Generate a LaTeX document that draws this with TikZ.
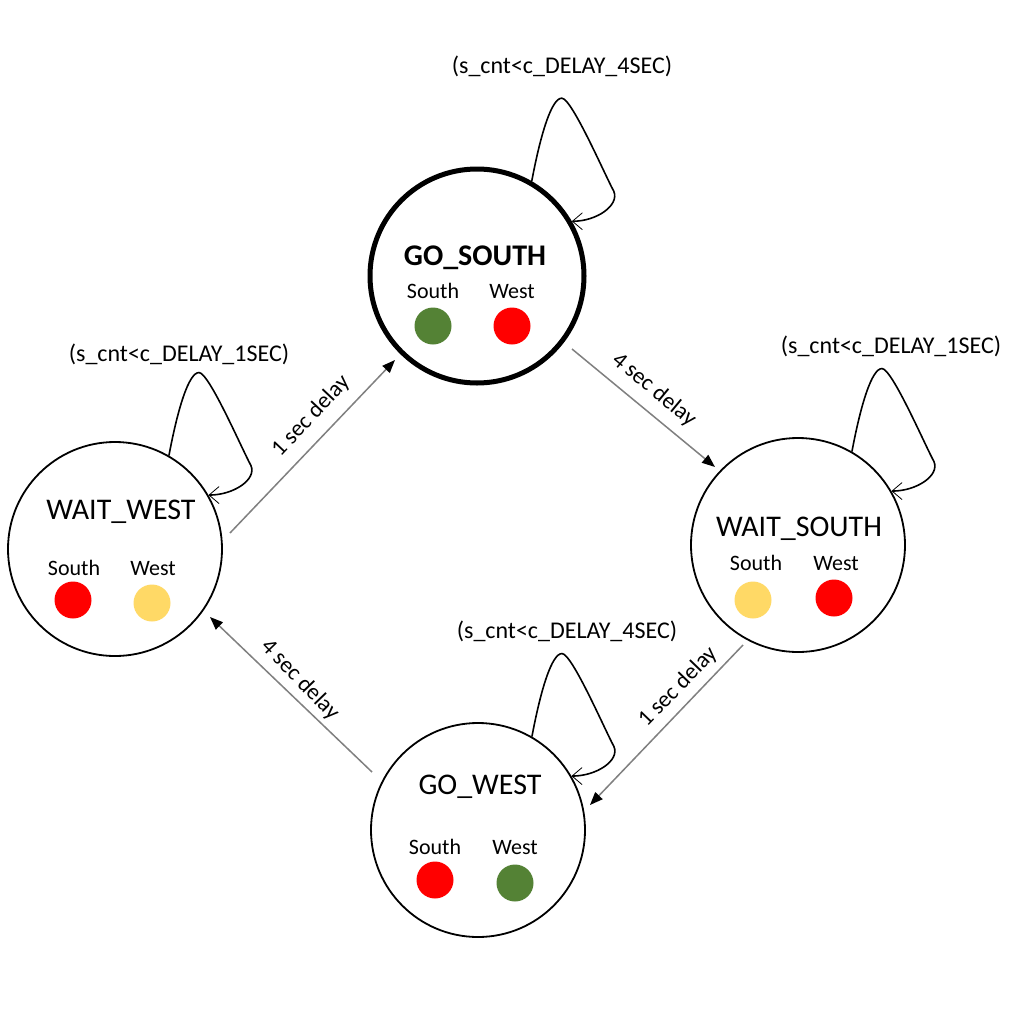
\documentclass[tikz,border=0pt]{standalone}
\usepackage{fontspec}
\setmainfont{Carlito}
\usetikzlibrary{arrows.meta,calc}
\definecolor{lgreen}{RGB}{84,130,53}
\definecolor{lred}{RGB}{255,0,0}
\definecolor{lyellow}{RGB}{255,217,102}
\definecolor{agray}{RGB}{128,128,128}
\begin{document}
\begin{tikzpicture}[x=1pt,y=-1pt,
  state/.style={circle,draw=black,line width=1.8pt,minimum size=214pt,inner sep=0pt},
  title/.style={font=\fontsize{30}{36}\selectfont,inner sep=0pt,anchor=base},
  small/.style={font=\fontsize{22}{26}\selectfont,inner sep=0pt,anchor=base},
  looplbl/.style={font=\fontsize{24}{28}\selectfont,inner sep=0pt,anchor=base},
  elabel/.style={font=\fontsize{23}{27}\selectfont,inner sep=0pt},
  lamp/.style={circle,draw=none,minimum size=37pt,inner sep=0pt},
  loopline/.style={draw=black,line width=1.6pt,-{Straight Barb[length=10pt,width=17pt,line width=0.8pt]}},
  garrow/.style={draw=agray,line width=1.5pt,-{Triangle[length=13pt,width=10pt,color=black]}}
]
\useasboundingbox (0,0) rectangle (1018,1018);
\fill[white] (0,0) rectangle (1018,1018);

% states
\node[state,line width=5pt] (gs) at (477,276) {};
\node[state] (ww) at (115,549) {};
\node[state] (ws) at (798,545) {};
\node[state] (gw) at (478,830) {};

% GO_SOUTH contents
\node[title,font=\fontsize{30}{36}\selectfont\bfseries] (gst) at (475,265) {GO\_SOUTH};
\node[small] (gss) at (433,298) {South};
\node[small] (gsw) at (512,298) {West};
\node[lamp,fill=lgreen] (gsls) at (433,326) {};
\node[lamp,fill=lred] (gslw) at (512,326) {};

% WAIT_WEST contents
\node[title] (wwt) at (121,519) {WAIT\_WEST};
\node[small] (wws) at (74,575) {South};
\node[small] (www) at (153,575) {West};
\node[lamp,fill=lred] (wwls) at (73,600) {};
\node[lamp,fill=lyellow] (wwlw) at (152,603) {};

% WAIT_SOUTH contents
\node[title] (wst) at (799,536) {WAIT\_SOUTH};
\node[small] (wss) at (756,570) {South};
\node[small] (wsw) at (836,570) {West};
\node[lamp,fill=lyellow] (wsls) at (753,600) {};
\node[lamp,fill=lred] (wslw) at (834,598) {};

% GO_WEST contents
\node[title] (gwt) at (480,794) {GO\_WEST};
\node[small] (gws) at (435,854) {South};
\node[small] (gww) at (515,854) {West};
\node[lamp,fill=lred] (gwls) at (435,880) {};
\node[lamp,fill=lgreen] (gwlw) at (515,883) {};

% self loops
\foreach \n in {gs,ww,ws,gw}{
  \draw[loopline] (\n.60) .. controls +(9,-48) and +(-10,0) .. ++(30,-83)
    .. controls +(10,0) and +(-9.5,-17.6) .. ++(52,93)
    .. controls +(6,14) and +(25,0) .. (\n.30);
}
\node[looplbl] (gsll) at (562,73) {(s\_cnt<c\_DELAY\_4SEC)};
\node[looplbl] (wwll) at (179,361) {(s\_cnt<c\_DELAY\_1SEC)};
\node[looplbl] (wsll) at (891,353) {(s\_cnt<c\_DELAY\_1SEC)};
\node[looplbl] (gwll) at (567,638) {(s\_cnt<c\_DELAY\_4SEC)};

% transitions
\draw[garrow] ($(ww.center)+(115,-16)$) -- ($(gs.center)+(-82,84)$);
\draw[garrow] ($(gs.center)+(95,73)$) -- ($(ws.center)+(-83,-78)$);
\draw[garrow] ($(ws.center)+(-55,100)$) -- ($(gw.center)+(112,-25)$);
\draw[garrow] ($(gw.center)+(-106,-58)$) -- ($(ww.center)+(95,68)$);

\node[elabel,rotate=46.7] (e1) at (311,416) {1 sec delay};
\node[elabel,rotate=-39.6] (e2) at (654,390) {4 sec delay};
\node[elabel,rotate=46] (e3) at (678,687) {1 sec delay};
\node[elabel,rotate=-46] (e4) at (300,680) {4 sec delay};
\end{tikzpicture}
\end{document}
